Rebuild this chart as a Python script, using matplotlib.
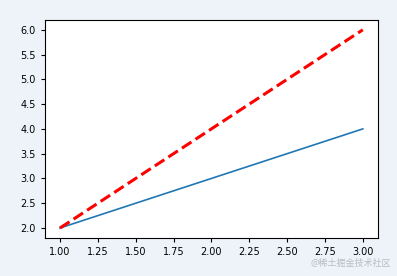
import matplotlib
matplotlib.use("Agg")
from matplotlib import pyplot as plt

plt.rcParams['font.family'] = ['Noto Sans CJK SC', 'DejaVu Sans']

x = [1, 2, 3]
y_blue = [2, 3, 4]
y_red = [2, 4, 6]

fig = plt.figure(figsize=(3.97, 2.76), dpi=100, facecolor='#eef2f9')
ax = fig.add_axes([0.113, 0.138, 0.839, 0.79])
ax.plot(x, y_blue, color='#1f77b4', linewidth=1.2)
ax.plot(x, y_red, color='red', linestyle='--', linewidth=2.2)
ax.tick_params(labelsize=7, length=3, width=0.8)
for lbl in ax.get_xticklabels() + ax.get_yticklabels():
    lbl.set_family('DejaVu Sans')

fig.text(0.985, 0.03, '@稀土掘金技术社区', ha='right', va='bottom',
         fontsize=6.5, color='#b8bcc4')

fig.savefig('out.png', dpi=100, facecolor=fig.get_facecolor())
